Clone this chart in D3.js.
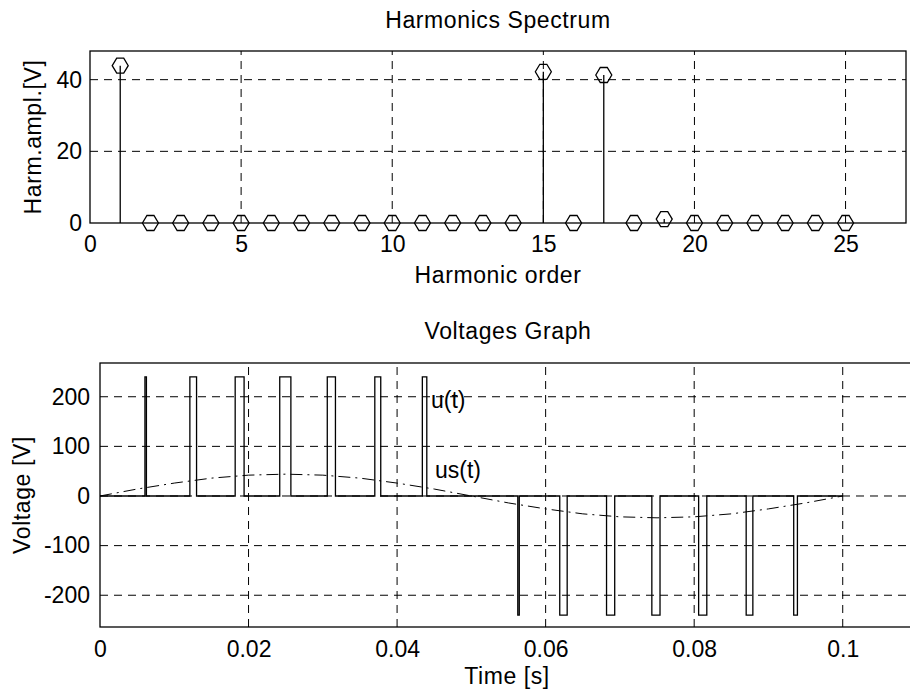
<!DOCTYPE html>
<html lang="en">
<head>
<meta charset="UTF-8">
<title>Harmonics Spectrum / Voltages Graph</title>
<script src="https://d3js.org/d3.v7.min.js"></script>
<style>
  body { margin: 0; background: #fff; }
  svg { display: block; }
  text { font-family: "Liberation Sans", Arial, sans-serif; font-size: 23px; fill: #000; }
  .label { letter-spacing: 0.6px; }
  .grid { stroke: #000; stroke-width: 1; stroke-dasharray: 8 6; fill: none; }
  .box { stroke: #000; stroke-width: 1.3; fill: none; }
</style>
</head>
<body>
<svg id="chart" width="910" height="695"></svg>
<script>
// harmonics spectrum
const harmOrder = [1,2,3,4,5,6,7,8,9,10,11,12,13,14,15,16,17,18,19,20,21,22,23,24,25]
const harmAmpl  = [43.9,0,0,0,0,0,0,0,0,0,0,0,0,0,42.2,0,41.3,0,1.1,0,0,0,0,0,0]
const harmXTicks = [0,5,10,15,20,25]
const harmYTicks = [0,20,40]

// voltage pulses u(t): start / end time [s] and sign
const pulseStart = [0.00605,0.0121,0.0182,0.0242,0.0306,0.0370,0.0434, 0.05625,0.0619,0.0682,0.0743,0.0806,0.0870,0.0934]
const pulseEnd   = [0.00625,0.0130,0.0194,0.0257,0.0317,0.0378,0.0440, 0.05645,0.0629,0.0693,0.0754,0.0817,0.0879,0.0939]
const pulseSign  = [1,1,1,1,1,1,1, -1,-1,-1,-1,-1,-1,-1]
const pulseAmpl = 240
const tEnd = 0.1

// us(t)
const usTime = [0,0.005,0.01,0.015,0.02,0.025,0.03,0.035,0.04,0.045,0.05,0.055,0.06,0.065,0.07,0.075,0.08,0.085,0.09,0.095,0.1]
const usVolt = [0,14,26,36,42,44,42,36,26,14,0,-14,-26,-36,-42,-44,-42,-36,-26,-14,0]

const timeTicks = [0,0.02,0.04,0.06,0.08,0.1]
const voltTicks = [-200,-100,0,100,200]

const svg = d3.select("#chart")

// ---------- top: harmonics spectrum ----------
const x1 = d3.scaleLinear().domain([0, 27]).range([90, 906])
const y1 = d3.scaleLinear().domain([0, 48]).range([223, 51])

const gTop = svg.append("g")

gTop.selectAll(".vgrid").data(harmXTicks.filter(d => d > 0)).enter().append("line")
    .attr("class", "grid")
    .attr("x1", d => x1(d)).attr("x2", d => x1(d))
    .attr("y1", y1(0)).attr("y2", y1(48))
gTop.selectAll(".hgrid").data(harmYTicks.filter(d => d > 0)).enter().append("line")
    .attr("class", "grid")
    .attr("x1", x1(0)).attr("x2", x1(27))
    .attr("y1", d => y1(d)).attr("y2", d => y1(d))

gTop.append("rect").attr("class", "box")
    .attr("x", x1(0)).attr("y", y1(48))
    .attr("width", x1(27) - x1(0)).attr("height", y1(0) - y1(48))

// stems
gTop.selectAll(".stem").data(harmOrder).enter().append("line")
    .attr("stroke", "#000").attr("stroke-width", 1.3)
    .attr("x1", d => x1(d)).attr("x2", d => x1(d))
    .attr("y1", y1(0)).attr("y2", (d, i) => y1(harmAmpl[i]))

// hollow round markers (drawn as the pixel "diamond" of the original)
const marker = "M-8,0L-3.5,-7.5L3.5,-7.5L8,0L3.5,7.5L-3.5,7.5Z"
gTop.selectAll(".mk").data(harmOrder).enter().append("path")
    .attr("d", marker)
    .attr("fill", "none").attr("stroke", "#000").attr("stroke-width", 1.3)
    .attr("transform", (d, i) => "translate(" + x1(d) + "," + y1(harmAmpl[i]) + ")")

gTop.append("g")
    .attr("transform", "translate(0," + y1(0) + ")")
    .call(d3.axisBottom(x1).tickValues(harmXTicks).tickSize(0).tickPadding(13).tickFormat(d => String(d)))
    .call(g => g.select(".domain").remove())
gTop.append("g")
    .attr("transform", "translate(" + x1(0) + ",0)")
    .call(d3.axisLeft(y1).tickValues(harmYTicks).tickSize(0).tickPadding(8).tickFormat(d => String(d)))
    .call(g => g.select(".domain").remove())

gTop.append("text").attr("class", "label").attr("text-anchor", "middle")
    .attr("x", 498).attr("y", 28).text("Harmonics Spectrum")
gTop.append("text").attr("class", "label").attr("text-anchor", "middle")
    .attr("x", 498).attr("y", 283).text("Harmonic order")
gTop.append("text").attr("class", "label").attr("text-anchor", "middle")
    .attr("transform", "translate(41," + (y1(24)) + ") rotate(-90)").text("Harm.ampl.[V]")

// ---------- bottom: voltages graph ----------
const x2 = d3.scaleLinear().domain([0, 0.11]).range([100, 917])
const y2 = d3.scaleLinear().domain([-264, 268]).range([627, 363])

const gBot = svg.append("g")

gBot.selectAll(".vgrid").data(timeTicks.filter(d => d > 0)).enter().append("line")
    .attr("class", "grid")
    .attr("x1", d => x2(d)).attr("x2", d => x2(d))
    .attr("y1", y2(-264)).attr("y2", y2(268))
gBot.selectAll(".hgrid").data(voltTicks).enter().append("line")
    .attr("class", "grid")
    .attr("x1", x2(0)).attr("x2", x2(0.11))
    .attr("y1", d => y2(d)).attr("y2", d => y2(d))

gBot.append("rect").attr("class", "box")
    .attr("x", x2(0)).attr("y", y2(268))
    .attr("width", x2(0.11) - x2(0)).attr("height", y2(-264) - y2(268))

// u(t) as a step waveform built from the pulse table
const uPts = [[0, 0]]
pulseStart.forEach((s, i) => {
    const v = pulseSign[i] * pulseAmpl
    uPts.push([s, 0], [s, v], [pulseEnd[i], v], [pulseEnd[i], 0])
})
uPts.push([tEnd, 0])

const line2 = d3.line().x(d => x2(d[0])).y(d => y2(d[1]))

gBot.append("path")
    .attr("d", line2(uPts))
    .attr("fill", "none").attr("stroke", "#000").attr("stroke-width", 1.3)

gBot.append("path")
    .attr("d", line2(usTime.map((t, i) => [t, usVolt[i]])))
    .attr("fill", "none").attr("stroke", "#000").attr("stroke-width", 1)
    .attr("stroke-dasharray", "12 5 2 5")

gBot.append("text").attr("x", 431).attr("y", 408).text("u(t)")
gBot.append("text").attr("x", 435).attr("y", 478).text("us(t)")

gBot.append("g")
    .attr("transform", "translate(0," + y2(-264) + ")")
    .call(d3.axisBottom(x2).tickValues(timeTicks).tickSize(0).tickPadding(14).tickFormat(d => String(d)))
    .call(g => g.select(".domain").remove())
gBot.append("g")
    .attr("transform", "translate(" + x2(0) + ",0)")
    .call(d3.axisLeft(y2).tickValues(voltTicks).tickSize(0).tickPadding(10).tickFormat(d => String(d)))
    .call(g => g.select(".domain").remove())

gBot.append("text").attr("class", "label").attr("text-anchor", "middle")
    .attr("x", 508).attr("y", 339).text("Voltages Graph")
gBot.append("text").attr("class", "label").attr("text-anchor", "middle")
    .attr("x", 507).attr("y", 684).text("Time [s]")
gBot.append("text").attr("class", "label").attr("text-anchor", "middle")
    .attr("transform", "translate(30," + y2(2) + ") rotate(-90)").text("Voltage [V]")

// axis tick text uses the page font, not d3's default
svg.selectAll("g[font-family]").attr("font-family", null).attr("font-size", null)
</script>
</body>
</html>
